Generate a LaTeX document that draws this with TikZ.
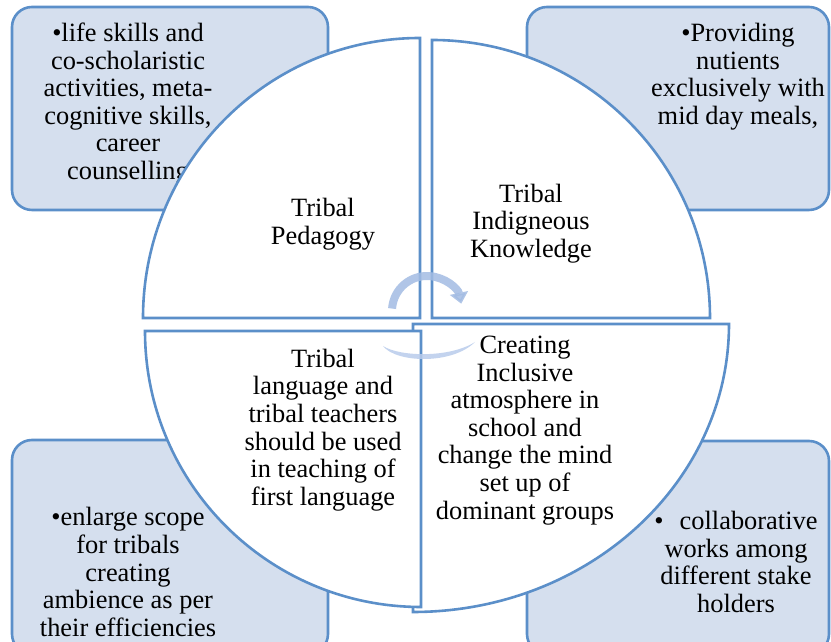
\documentclass[tikz,border=0pt]{standalone}
\usepackage{fontspec}
\setmainfont{Liberation Serif}
\usetikzlibrary{arrows.meta}
\definecolor{edgeblue}{HTML}{5B8FC9}
\definecolor{boxfill}{HTML}{D5DFEE}
\definecolor{arrowblue}{HTML}{A3BCE3}
\definecolor{arrowlight}{HTML}{B9CCEC}
\begin{document}
\begin{tikzpicture}[x=1pt,y=1pt,
  cornerbox/.style={draw=edgeblue, fill=boxfill, line width=2.6pt, rounded corners=20pt},
  sector/.style={draw=edgeblue, fill=white, line width=2.6pt, line join=miter},
  txt/.style={align=center, font=\fontsize{26.4}{27.6}\selectfont, inner sep=0pt}]
\clip (0,0) rectangle (831,642);
% corner boxes
\draw[cornerbox] (12,432) rectangle (328,635);
\draw[cornerbox] (527,432) rectangle (829,635);
\draw[cornerbox] (12,-12) rectangle (328,202);
\draw[cornerbox] (527,-12) rectangle (829,201);
% box texts
\node[txt] (tlt) at (128,538) {•life skills and\\co-scholaristic\\activities, meta-\\cognitive skills,\\career\\counselling};
\node[txt] (trt) at (738,565.5) {•Providing\\nutients\\exclusively with\\mid day meals,};
\node[txt] (blt) at (128,70) {•enlarge scope\\for tribals\\creating\\ambience as per\\their efficiencies};
\node[txt] (brt) at (736,80) {•\hspace{16pt}collaborative\\works among\\different stake\\holders};
% sectors
\filldraw[sector] (420,324) -- (143,324) arc[start angle=180,end angle=90,x radius=277,y radius=280] -- cycle;
\filldraw[sector] (432,324) -- (432,602) arc[start angle=90,end angle=0,radius=278] -- cycle;
\filldraw[sector] (413,318) -- (729,318) arc[start angle=0,end angle=-90,x radius=316,y radius=288] -- cycle;
\filldraw[sector] (421,311) -- (145,311) arc[start angle=180,end angle=270,radius=276] -- cycle;
% sector texts
\node[txt] (tls) at (323,418) {Tribal\\Pedagogy};
\node[txt] (trs) at (531,418.5) {Tribal\\Indigneous\\Knowledge};
\node[txt] (bls) at (323,212) {Tribal\\language and\\tribal teachers\\should be used\\in teaching of\\first language};
\node[txt] (brs) at (525,211.5) {Creating\\Inclusive\\atmosphere in\\school and\\change the mind\\set up of\\dominant groups};
% circular arrows
\draw[arrowblue, opacity=0.85, line width=8pt, -{Triangle[length=11pt,width=18pt]}]
  (427,331) ++(176:35) arc[start angle=176,end angle=12,radius=35];
\fill[arrowlight, opacity=0.85] (383,296) .. controls (396,279) and (452,277) .. (475,300)
  .. controls (450,284) and (400,285) .. (383,296) -- cycle;
\end{tikzpicture}
\end{document}
